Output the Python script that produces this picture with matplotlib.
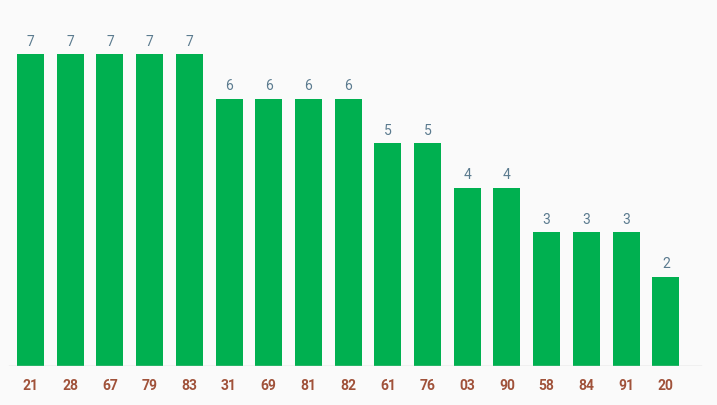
import matplotlib
matplotlib.use("Agg")
import matplotlib.pyplot as plt

categories = ["21", "28", "67", "79", "83", "31", "69", "81", "82", "61", "76",
              "03", "90", "58", "84", "91", "20"]
values = [7, 7, 7, 7, 7, 6, 6, 6, 6, 5, 5, 4, 4, 3, 3, 3, 2]

fig = plt.figure(figsize=(7.17, 4.05), dpi=100, facecolor="#fafafa")
ax = fig.add_axes([0, 366 / 405 * 0 + 39 / 405, 1, 366 / 405])
ax.set_facecolor("#fafafa")

x = range(len(categories))
ax.bar(x, values, width=0.68, color="#00b050")
for i, v in zip(x, values):
    ax.text(i, v + 0.12, str(v), ha="center", va="bottom", fontsize=10,
            color="#5b7b8f", family="Roboto")

ax.set_xlim(-0.768, 17.29)
ax.set_ylim(0, 8.21)
ax.axhline(0, xmin=0.012, xmax=0.977, color="#cccccc", linewidth=1)
for s in ax.spines.values():
    s.set_visible(False)
ax.set_yticks([])
ax.set_xticks(list(x))
ax.set_xticklabels(categories, fontsize=10, fontweight="bold", color="#a0523a",
                   family="Roboto")
ax.tick_params(axis="x", length=0, pad=9)

fig.savefig("out.png", dpi=100, facecolor=fig.get_facecolor())
